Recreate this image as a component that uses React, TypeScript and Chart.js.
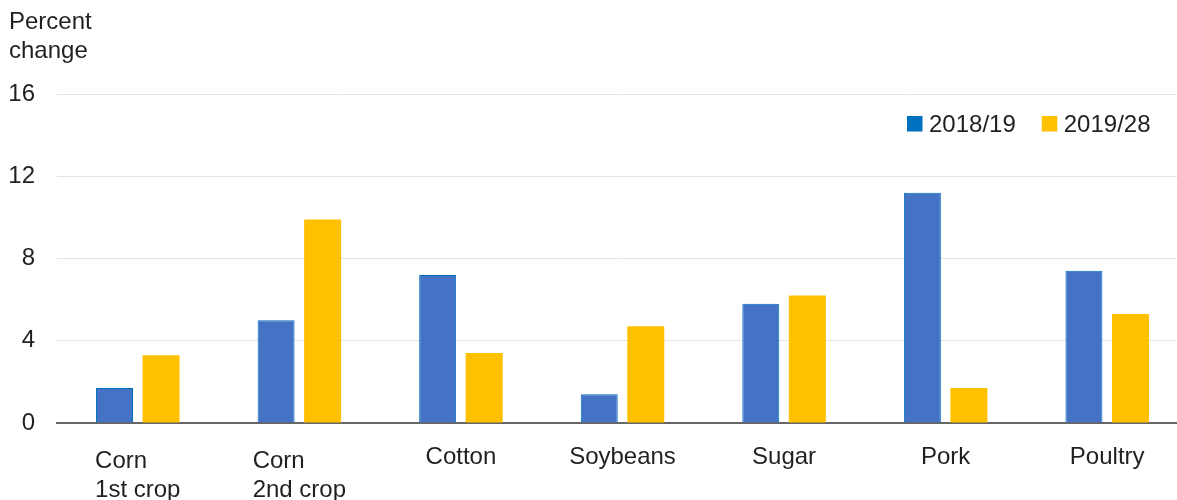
import { useEffect, useRef } from 'react';
import { Chart, registerables } from 'chart.js';

Chart.register(...registerables);

const FONT = '"Liberation Sans", Arial, Helvetica, sans-serif';
const TEXT = '#231f20';

// Commodity groups along the horizontal axis
const categories: (string | string[])[] = [
  ['Corn', '1st crop'],
  ['Corn', '2nd crop'],
  'Cotton',
  'Soybeans',
  'Sugar',
  'Pork',
  'Poultry',
];

// Percent change by period
const seriesNames = ['2018/19', '2019/28'];
const values2018 = [1.7, 5.0, 7.2, 1.4, 5.8, 11.2, 7.4];
const values2019 = [3.3, 9.9, 3.4, 4.7, 6.2, 1.7, 5.3];

// Vertical axis
const yTicks = [0, 4, 8, 12, 16];
const axisTitle = ['Percent', 'change'];

// Draws the axis title, the category labels and the legend on the canvas
const textLayer = {
  id: 'textLayer',
  afterDraw(chart: any) {
    const { ctx, chartArea } = chart;
    const xScale = chart.scales.x;
    ctx.save();
    ctx.font = `24px ${FONT}`;
    ctx.fillStyle = TEXT;
    ctx.textBaseline = 'alphabetic';

    ctx.textAlign = 'left';
    axisTitle.forEach((line, i) => ctx.fillText(line, 9, 29 + i * 29));

    categories.forEach((label, i) => {
      const cx = xScale.getPixelForValue(i);
      if (Array.isArray(label)) {
        const w = Math.max(...label.map((l) => ctx.measureText(l).width));
        ctx.textAlign = 'left';
        label.forEach((l, j) => ctx.fillText(l, cx - w / 2, chartArea.bottom + 45 + j * 29));
      } else {
        ctx.textAlign = 'center';
        ctx.fillText(label, cx, chartArea.bottom + 41);
      }
    });

    // legend: swatch + label per dataset
    let lx = 907;
    const ly = 116;
    ctx.textAlign = 'left';
    chart.data.datasets.forEach((ds: any) => {
      ctx.fillStyle = ds.legendColor;
      ctx.fillRect(lx, ly, 15.5, 15.5);
      ctx.fillStyle = TEXT;
      ctx.fillText(ds.label, lx + 22, ly + 16);
      lx += 22 + ctx.measureText(ds.label).width + 26;
    });
    ctx.restore();
  },
};

export default function App() {
  const canvasRef = useRef<HTMLCanvasElement | null>(null);

  useEffect(() => {
    if (!canvasRef.current) return;
    const chart = new Chart(canvasRef.current, {
      type: 'bar',
      data: {
        labels: categories as any,
        datasets: [
          {
            label: seriesNames[0],
            data: values2018,
            backgroundColor: '#4472C4',
            borderColor: '#0070C0',
            borderWidth: 1,
            legendColor: '#0070C0',
          } as any,
          {
            label: seriesNames[1],
            data: values2019,
            backgroundColor: '#FFC000',
            borderColor: '#FFC000',
            borderWidth: 0,
            legendColor: '#FFC000',
          } as any,
        ],
      },
      options: {
        responsive: false,
        animation: false,
        devicePixelRatio: 1,
        layout: { padding: { top: 94, bottom: 77, left: 0, right: 0 } },
        datasets: {
          bar: { categoryPercentage: 0.576, barPercentage: 0.795 },
        },
        plugins: {
          legend: { display: false },
          title: { display: false },
          tooltip: { enabled: false },
        },
        scales: {
          x: {
            z: 1,
            grid: { display: false, drawTicks: false },
            ticks: { display: false },
            border: { display: true, color: '#666666', width: 2 },
            afterFit: (scale: any) => {
              scale.height = 0;
            },
          },
          y: {
            min: yTicks[0],
            max: yTicks[yTicks.length - 1],
            afterBuildTicks: (scale: any) => {
              scale.ticks = yTicks.map((v) => ({ value: v }));
            },
            grid: { color: '#e4e4e4', lineWidth: 1, drawTicks: false },
            border: { display: false },
            ticks: {
              padding: 22,
              color: TEXT,
              font: { family: FONT, size: 24 },
            },
            afterFit: (scale: any) => {
              scale.width = 57;
            },
          },
        },
      },
      plugins: [textLayer],
    });
    return () => chart.destroy();
  }, []);

  return (
    <div
      style={{
        position: 'absolute',
        left: 0,
        top: 0,
        width: 1177,
        height: 500,
        overflow: 'hidden',
        background: '#ffffff',
      }}
    >
      <canvas ref={canvasRef} width={1188} height={500} style={{ width: 1188, height: 500, display: 'block' }} />
    </div>
  );
}
